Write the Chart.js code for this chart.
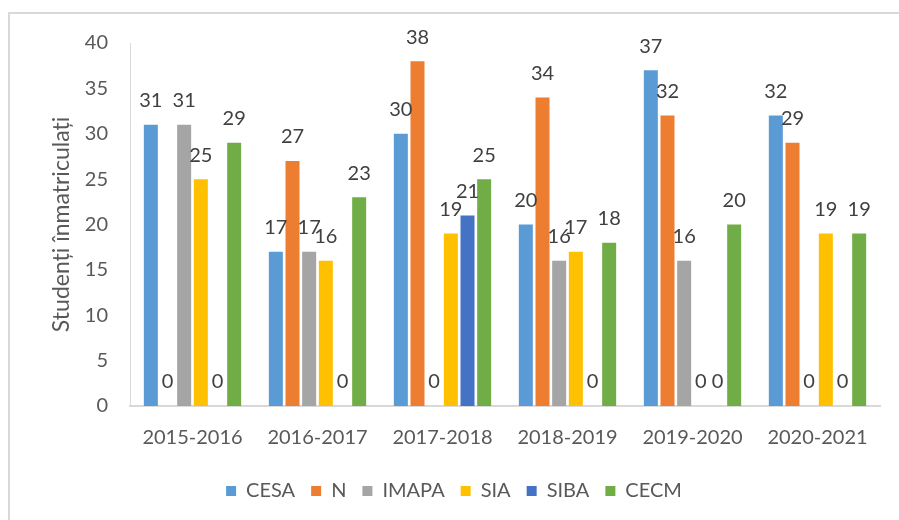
<!DOCTYPE html>
<html>
<head>
<meta charset="utf-8">
<script src="https://cdn.jsdelivr.net/npm/chart.js@4.4.1/dist/chart.umd.min.js"></script>
<style>
  html, body { margin: 0; padding: 0; background: #fff; }
  #wrap { width: 899px; height: 520px; position: relative; }
</style>
</head>
<body>
<div id="wrap"><canvas id="myChart" width="899" height="520"></canvas></div>
<script>
years = ['2015-2016', '2016-2017', '2017-2018', '2018-2019', '2019-2020', '2020-2021']
cesa  = [31, 17, 30, 20, 37, 32]
n     = [0, 27, 38, 34, 32, 29]
imapa = [31, 17, 0, 16, 16, 0]
sia   = [25, 16, 19, 17, 0, 19]
siba  = [0, 0, 21, 0, 0, 0]
cecm  = [29, 23, 25, 18, 20, 19]
yTicks = [0, 5, 10, 15, 20, 25, 30, 35, 40]

const textColor = '#595959'
const fontName = 'Lato'

// white background + the grey frame of the original picture (only top/left visible)
const frame = {
  id: 'frame',
  beforeDraw(chart) {
    const c = chart.ctx
    c.save()
    c.fillStyle = '#fff'
    c.fillRect(0, 0, chart.width, chart.height)
    c.strokeStyle = '#d9d9d9'
    c.lineWidth = 2
    c.beginPath()
    c.moveTo(9, chart.height)
    c.lineTo(9, 13)
    c.lineTo(chart.width, 13)
    c.stroke()
    c.restore()
  }
}

// legend sits a bit right of the canvas centre in the original
const legendShift = {
  id: 'legendShift',
  afterLayout(chart) {
    chart.legend.left += 14
    chart.legend.right += 14
  }
}

// value labels above each bar (zeros too)
const valueLabels = {
  id: 'valueLabels',
  afterDatasetsDraw(chart) {
    const c = chart.ctx
    c.save()
    c.font = '20px ' + fontName
    c.fillStyle = '#404040'
    c.textAlign = 'center'
    c.textBaseline = 'middle'
    chart.data.datasets.forEach(function(ds, i) {
      const meta = chart.getDatasetMeta(i)
      meta.data.forEach(function(bar, j) {
        c.fillText(String(ds.data[j]), bar.x, bar.y - 24)
      })
    })
    c.restore()
  }
}

const ctx = document.getElementById('myChart').getContext('2d')
const myChart = new Chart(ctx, {
  type: 'bar',
  data: {
    labels: years,
    datasets: [
      { label: 'CESA',  data: cesa,  backgroundColor: '#5B9BD5' },
      { label: 'N',     data: n,     backgroundColor: '#ED7D31' },
      { label: 'IMAPA', data: imapa, backgroundColor: '#A5A5A5' },
      { label: 'SIA',   data: sia,   backgroundColor: '#FFC000' },
      { label: 'SIBA',  data: siba,  backgroundColor: '#4472C4' },
      { label: 'CECM',  data: cecm,  backgroundColor: '#70AD47' }
    ]
  },
  options: {
    responsive: false,
    animation: false,
    categoryPercentage: 0.8,
    barPercentage: 0.84,
    layout: { padding: { left: 0, right: 19, top: 43, bottom: 9 } },
    plugins: {
      tooltip: { enabled: false },
      legend: {
        position: 'bottom',
        labels: {
          boxWidth: 10,
          boxHeight: 10,
          padding: 16,
          color: textColor,
          font: { family: fontName, size: 20 }
        }
      }
    },
    scales: {
      x: {
        grid: { display: false, drawTicks: false },
        border: { display: true, color: '#d9d9d9', width: 2 },
        ticks: { color: textColor, padding: 20, font: { family: fontName, size: 20 } },
        afterFit(scale) { scale.height = 59 }
      },
      y: {
        min: 0,
        max: 40,
        afterBuildTicks(scale) { scale.ticks = yTicks.map(function(v) { return { value: v } }) },
        grid: { display: false, drawTicks: false },
        border: { display: true, color: '#d9d9d9', width: 1 },
        ticks: { color: textColor, padding: 22, font: { family: fontName, size: 20 } },
        title: {
          display: true,
          text: 'Studenți înmatriculați',
          color: textColor,
          padding: { top: 48, bottom: 0 },
          font: { family: fontName, size: 23 }
        },
        afterFit(scale) { scale.width = 130 }
      }
    }
  },
  plugins: [frame, legendShift, valueLabels]
})
</script>
</body>
</html>
